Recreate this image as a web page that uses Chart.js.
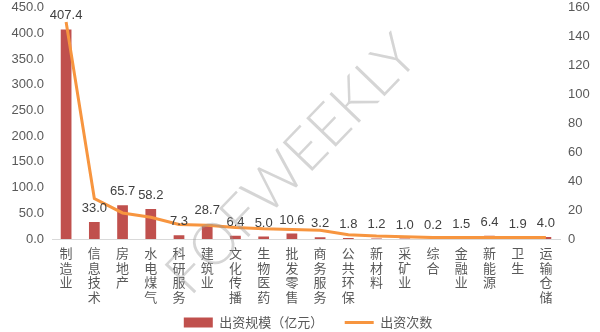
<!DOCTYPE html>
<html>
<head>
<meta charset="utf-8">
<script src="https://cdn.jsdelivr.net/npm/chart.js@4.4.0/dist/chart.umd.min.js"></script>
<style>
  html, body { margin: 0; padding: 0; background: #fff; }
  #wrap { width: 600px; height: 332px; }
</style>
</head>
<body>
<div id="wrap"><canvas id="industryChart"></canvas></div>
<script>
// data
const categories = ['制造业', '信息技术', '房地产', '水电煤气', '科研服务', '建筑业', '文化传播', '生物医药', '批发零售',
    '商务服务', '公共环保', '新材料', '采矿业', '综合', '金融业', '新能源', '卫生', '运输仓储'];
const amountValues = [407.4, 33.0, 65.7, 58.2, 7.3, 28.7, 6.4, 5.0, 10.6, 3.2, 1.8, 1.2, 1.0, 0.2, 1.5, 6.4, 1.9, 4.0];
const countValues = [150, 28, 18, 15, 10, 9.5, 8, 7, 6.5, 6, 3, 2, 1.5, 1, 1, 1, 1, 1];
const amountTicks = [0, 50, 100, 150, 200, 250, 300, 350, 400, 450];
const countTicks = [0, 20, 40, 60, 80, 100, 120, 140, 160];

const barColor = '#C0504D';
const lineColor = '#F7953F';
const textColor = '#595959';
const cjkFont = '"Noto Sans CJK SC", sans-serif';

// value labels above bars
const barLabels = {
    id: 'barLabels',
    afterDatasetsDraw(chart) {
        const { ctx } = chart;
        const meta = chart.getDatasetMeta(1);
        ctx.save();
        ctx.font = '13px "Liberation Sans", Arial, sans-serif';
        ctx.fillStyle = '#404040';
        ctx.textAlign = 'center';
        ctx.textBaseline = 'bottom';
        meta.data.forEach((bar, i) => {
            ctx.fillText(amountValues[i].toFixed(1), bar.x, bar.y - 7);
        });
        ctx.restore();
    }
};

// watermark
const watermark = {
    id: 'watermark',
    afterDraw(chart) {
        const { ctx } = chart;
        ctx.save();
        ctx.translate(292, 165);
        ctx.rotate(-46 * Math.PI / 180);
        ctx.font = '300 58px Lato, "Open Sans", sans-serif';
        ctx.fillStyle = 'rgba(150,150,150,0.4)';
        ctx.textAlign = 'center';
        ctx.textBaseline = 'middle';
        ctx.fillText('FOFWEEKLY', 0, 0);
        ctx.restore();
    }
};

// nudge legend a bit right, like the original
const legendShift = {
    id: 'legendShift',
    afterLayout(chart) {
        chart.legend.left += 8;
        chart.legend.right += 8;
    }
};

const config = {
    data: {
        labels: categories.map(c => c.split('')),
        datasets: [{
            type: 'line',
            label: '出资次数',
            data: countValues,
            yAxisID: 'yCount',
            borderColor: lineColor,
            backgroundColor: lineColor,
            borderWidth: 3,
            pointRadius: 0,
            tension: 0,
            order: 0
        }, {
            type: 'bar',
            label: '出资规模（亿元）',
            data: amountValues,
            yAxisID: 'yAmount',
            backgroundColor: barColor,
            barPercentage: 0.76,
            categoryPercentage: 0.5,
            order: 1
        }]
    },
    options: {
        responsive: true,
        maintainAspectRatio: false,
        animation: false,
        layout: { padding: { top: 7.5, bottom: -7, left: 0, right: 0 } },
        scales: {
            x: {
                grid: { display: false, drawTicks: false },
                border: { color: '#D9D9D9', width: 1 },
                ticks: {
                    color: textColor,
                    font: { family: cjkFont, size: 13, lineHeight: 1.12 },
                    maxRotation: 0,
                    autoSkip: false,
                    padding: 7
                },
                afterFit(axis) { axis.height = 65; }
            },
            yAmount: {
                position: 'left',
                min: 0,
                max: 450,
                grid: { display: false, drawTicks: false },
                border: { display: false },
                afterBuildTicks(axis) { axis.ticks = amountTicks.map(v => ({ value: v })); },
                ticks: {
                    color: textColor,
                    font: { family: '"Liberation Sans", Arial, sans-serif', size: 13 },
                    padding: 8,
                    callback: v => v.toFixed(1)
                },
                afterFit(axis) {
                    axis.width = 52;
                    axis.paddingTop = 0;
                    axis.paddingBottom = 0;
                }
            },
            yCount: {
                position: 'right',
                min: 0,
                max: 160,
                grid: { display: false, drawTicks: false },
                border: { display: false },
                afterBuildTicks(axis) { axis.ticks = countTicks.map(v => ({ value: v })); },
                ticks: {
                    color: textColor,
                    font: { family: '"Liberation Sans", Arial, sans-serif', size: 13 },
                    padding: 8
                },
                afterFit(axis) {
                    axis.width = 40;
                    axis.paddingTop = 0;
                    axis.paddingBottom = 0;
                }
            }
        },
        plugins: {
            legend: {
                position: 'bottom',
                labels: {
                    color: textColor,
                    font: { family: cjkFont, size: 13 },
                    usePointStyle: true,
                    pointStyleWidth: 29,
                    boxHeight: 10,
                    padding: 12,
                    generateLabels(chart) {
                        return [{
                            text: '出资规模（亿元）\u2002 ',
                            fillStyle: barColor,
                            strokeStyle: barColor,
                            lineWidth: 0,
                            pointStyle: 'rect',
                            fontColor: textColor,
                            datasetIndex: 1
                        }, {
                            text: '出资次数',
                            fillStyle: lineColor,
                            strokeStyle: lineColor,
                            lineWidth: 3,
                            pointStyle: 'line',
                            fontColor: textColor,
                            datasetIndex: 0
                        }];
                    }
                }
            },
            tooltip: { enabled: false }
        }
    },
    plugins: [barLabels, watermark, legendShift]
};

const myChart = new Chart(document.getElementById('industryChart'), config);
</script>
</body>
</html>
